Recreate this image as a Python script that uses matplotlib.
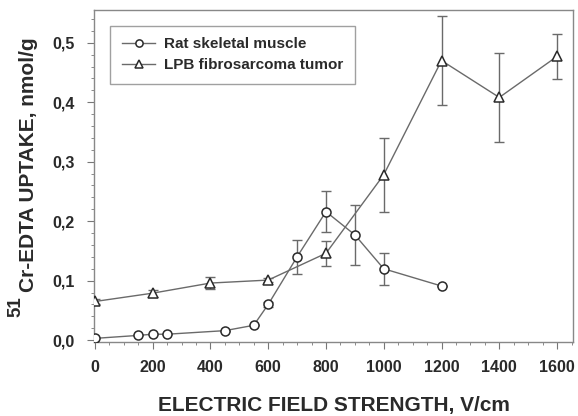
import matplotlib.pyplot as plt
from matplotlib.ticker import MultipleLocator, FuncFormatter

plt.rcParams['font.family'] = ['Liberation Sans', 'DejaVu Sans']

# Rat skeletal muscle
muscle_x = [0, 150, 200, 250, 450, 550, 600, 700, 800, 900, 1000, 1200]
muscle_y = [0.003, 0.008, 0.010, 0.010, 0.016, 0.025, 0.060, 0.140, 0.216, 0.177, 0.120, 0.091]
muscle_err = [0, 0, 0, 0, 0, 0, 0.004, 0.029, 0.035, 0.051, 0.027, 0]

# LPB fibrosarcoma tumor
tumor_x = [0, 200, 400, 600, 800, 1000, 1200, 1400, 1600]
tumor_y = [0.065, 0.079, 0.096, 0.101, 0.146, 0.278, 0.470, 0.408, 0.477]
tumor_err = [0.004, 0.006, 0.010, 0.004, 0.021, 0.062, 0.075, 0.075, 0.038]

ink = '#2a2a2a'
line_c = '#6a6a6a'

fig = plt.figure(figsize=(5.78, 4.16), dpi=100)
ax = fig.add_axes([0.1626, 0.178, 0.8287, 0.798])

ax.errorbar(muscle_x, muscle_y, yerr=muscle_err, fmt='none', ecolor=line_c,
            elinewidth=1.0, capsize=3.6, capthick=1.0, zorder=2)
ax.errorbar(tumor_x, tumor_y, yerr=tumor_err, fmt='none', ecolor=line_c,
            elinewidth=1.0, capsize=3.6, capthick=1.0, zorder=2)
ax.plot(muscle_x, muscle_y, color=line_c, lw=1.0, marker='o', ms=6.5,
        mfc='white', mec=ink, mew=1.1, label='Rat skeletal muscle', zorder=3)
ax.plot(tumor_x, tumor_y, color=line_c, lw=1.0, marker='^', ms=6.5,
        mfc='white', mec=ink, mew=1.1, label='LPB fibrosarcoma tumor', zorder=3)

ax.set_xlim(-3, 1655)
ax.set_ylim(-0.003, 0.555)
ax.xaxis.set_major_locator(MultipleLocator(200))
ax.xaxis.set_minor_locator(MultipleLocator(50))
ax.yaxis.set_major_locator(MultipleLocator(0.1))
ax.yaxis.set_minor_locator(MultipleLocator(0.02))
ax.yaxis.set_major_formatter(FuncFormatter(lambda v, p: f'{v:.1f}'.replace('.', ',')))

for s in ax.spines.values():
    s.set_color('#888888')
    s.set_linewidth(1.0)
ax.tick_params(which='both', direction='out', colors='#777777',
               labelcolor=ink, labelsize=11.5)
ax.tick_params(which='major', length=5)
ax.tick_params(which='minor', length=2.5)
ax.tick_params(axis='x', which='major', pad=8)
ax.tick_params(axis='y', which='major', pad=9)
for lab in ax.get_xticklabels() + ax.get_yticklabels():
    lab.set_fontweight('bold')

ax.set_xlabel('ELECTRIC FIELD STRENGTH, V/cm', fontsize=15,
              color=ink, fontweight='bold', labelpad=15)

# y label: "51" as a raised prefix, rest of the label set lower
fig.text(0.0493, 0.6034, 'Cr-EDTA UPTAKE, nmol/g', rotation=90, fontsize=15,
         fontweight='bold', color=ink, ha='center', va='center')
fig.text(0.0268, 0.262, '51', rotation=90, fontsize=13.5,
         fontweight='bold', color=ink, ha='center', va='center')

leg = ax.legend(loc='upper left', bbox_to_anchor=(0.018, 0.975), fontsize=11,
                frameon=True, fancybox=False, edgecolor='#888888',
                handlelength=2.2, markerscale=0.8, borderpad=0.75,
                labelspacing=0.45, handletextpad=0.6)
leg.get_frame().set_linewidth(1.0)
for t in leg.get_texts():
    t.set_color(ink)
    t.set_fontweight('bold')

fig.savefig('out.png', dpi=100)
